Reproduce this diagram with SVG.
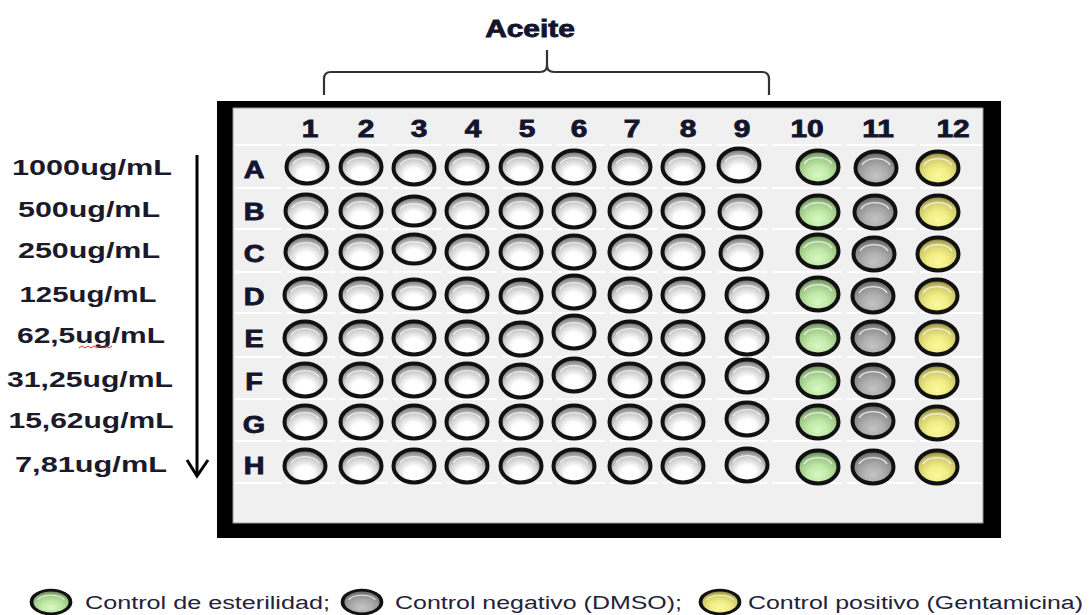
<svg xmlns="http://www.w3.org/2000/svg" xmlns:xlink="http://www.w3.org/1999/xlink" width="1089" height="615" viewBox="0 0 1089 615">
  <style>
    .hdr { font-family: "Liberation Sans", Arial, sans-serif; font-weight: bold; font-size: 23px; fill: #14142c; stroke: #14142c; stroke-width: 0.8; text-anchor: middle; }
    .conc { font-family: "Liberation Sans", Arial, sans-serif; font-weight: bold; font-size: 22px; fill: #1a1a2a; text-anchor: middle; }
    .legend { font-family: "Liberation Sans", Arial, sans-serif; font-size: 18px; fill: #22223a; }
    .sep { stroke: #ffffff; stroke-width: 2; }
    .rim { stroke: #111; stroke-width: 4; }
    .shine { fill: none; stroke: #f4f4f4; stroke-width: 1.4; opacity: 0.85; }
  </style>
  <defs>
    <radialGradient id="gWhite" cx="0.5" cy="0.66" r="0.6" fx="0.5" fy="0.75">
      <stop offset="0" stop-color="#ffffff"/>
      <stop offset="0.35" stop-color="#ffffff"/>
      <stop offset="0.7" stop-color="#cfcfcf"/>
      <stop offset="1" stop-color="#7a7a7a"/>
    </radialGradient>
    <radialGradient id="gGreen" cx="0.5" cy="0.66" r="0.6" fx="0.5" fy="0.75">
      <stop offset="0" stop-color="#d8f8c4"/>
      <stop offset="0.4" stop-color="#c2eaa8"/>
      <stop offset="0.8" stop-color="#9cc486"/>
      <stop offset="1" stop-color="#6c8a5c"/>
    </radialGradient>
    <radialGradient id="gGray" cx="0.5" cy="0.66" r="0.6" fx="0.5" fy="0.75">
      <stop offset="0" stop-color="#c4c4c4"/>
      <stop offset="0.4" stop-color="#b0b0b0"/>
      <stop offset="0.8" stop-color="#8e8e8e"/>
      <stop offset="1" stop-color="#666666"/>
    </radialGradient>
    <radialGradient id="gYellow" cx="0.5" cy="0.66" r="0.6" fx="0.5" fy="0.75">
      <stop offset="0" stop-color="#fbf9a0"/>
      <stop offset="0.4" stop-color="#f2ee86"/>
      <stop offset="0.8" stop-color="#cfca6a"/>
      <stop offset="1" stop-color="#8f8a4a"/>
    </radialGradient>
    <!-- one well of the plate, centred on 0,0 -->
    <g id="wW">
      <ellipse rx="20.5" ry="16.5" fill="url(#gWhite)" class="rim"/>
      <path d="M -14 -3 A 15 10 0 0 1 14 -3" class="shine"/>
    </g>
    <g id="wG">
      <ellipse rx="20.5" ry="16.5" fill="url(#gGreen)" class="rim"/>
      <path d="M -14 -3 A 15 10 0 0 1 14 -3" class="shine"/>
    </g>
    <g id="wK">
      <ellipse rx="20.5" ry="16.5" fill="url(#gGray)" class="rim"/>
      <path d="M -14 -3 A 15 10 0 0 1 14 -3" class="shine"/>
    </g>
    <g id="wY">
      <ellipse rx="20.5" ry="16.5" fill="url(#gYellow)" class="rim"/>
      <path d="M -14 -3 A 15 10 0 0 1 14 -3" class="shine"/>
    </g>
    <!-- squat variant used in column 3 -->
    <g id="wWs">
      <ellipse rx="20.5" ry="14.5" fill="url(#gWhite)" class="rim"/>
      <path d="M -14 -2 A 15 8 0 0 1 14 -2" class="shine"/>
    </g>
    <!-- one row of separator dashes -->
    <g id="sepRow">
      <line class="sep" x1="235" y1="0" x2="282" y2="0"/>
      <line class="sep" x1="287" y1="0" x2="335" y2="0"/>
      <line class="sep" x1="340" y1="0" x2="388" y2="0"/>
      <line class="sep" x1="393" y1="0" x2="442" y2="0"/>
      <line class="sep" x1="447" y1="0" x2="497" y2="0"/>
      <line class="sep" x1="502" y1="0" x2="552" y2="0"/>
      <line class="sep" x1="557" y1="0" x2="605" y2="0"/>
      <line class="sep" x1="610" y1="0" x2="658" y2="0"/>
      <line class="sep" x1="663" y1="0" x2="712" y2="0"/>
      <line class="sep" x1="717" y1="0" x2="767" y2="0"/>
      <line class="sep" x1="772" y1="0" x2="842" y2="0"/>
      <line class="sep" x1="847" y1="0" x2="915" y2="0"/>
      <line class="sep" x1="920" y1="0" x2="982" y2="0"/>
    </g>
  </defs>

  <rect width="1089" height="615" fill="#ffffff"/>

  <!-- title and brace over columns 1-9 -->
  <g id="title">
    <text class="hdr" transform="matrix(1.3 0 0 1 530 37)">Aceite</text>
    <path d="M 324 95 L 324 79 Q 324 72 331 72 L 540 72 Q 547 72 547 65 L 547 50 M 547 65 Q 547 72 554 72 L 762 72 Q 769 72 769 79 L 769 95" fill="none" stroke="#333" stroke-width="2.2"/>
  </g>

  <!-- concentration scale with arrow -->
  <g id="concentrations">
    <text class="conc" x="92" y="175" textLength="160" lengthAdjust="spacingAndGlyphs">1000ug/mL</text>
    <text class="conc" x="89" y="217" textLength="142" lengthAdjust="spacingAndGlyphs">500ug/mL</text>
    <text class="conc" x="89" y="258" textLength="142" lengthAdjust="spacingAndGlyphs">250ug/mL</text>
    <text class="conc" x="88" y="302" textLength="137" lengthAdjust="spacingAndGlyphs">125ug/mL</text>
    <text class="conc" x="91" y="343" textLength="148" lengthAdjust="spacingAndGlyphs">62,5ug/mL</text>
    <path d="M 79 348 l 3 -2 l 3 2 l 3 -2 l 3 2 l 3 -2 l 3 2 l 3 -2 l 3 2 l 3 -2 l 3 2 l 3 -2" fill="none" stroke="#e03030" stroke-width="1"/>
    <text class="conc" x="90" y="387" textLength="166" lengthAdjust="spacingAndGlyphs">31,25ug/mL</text>
    <text class="conc" x="91" y="428" textLength="165" lengthAdjust="spacingAndGlyphs">15,62ug/mL</text>
    <text class="conc" x="91" y="472" textLength="152" lengthAdjust="spacingAndGlyphs">7,81ug/mL</text>
  </g>
  <g id="connectors">
    <line x1="197" y1="155" x2="197" y2="475" stroke="#000" stroke-width="3"/>
    <path d="M 187 460 L 197 476 L 208 460" fill="none" stroke="#000" stroke-width="3" stroke-linejoin="miter"/>
  </g>

  <!-- the 96-well plate -->
  <g id="plate">
    <rect x="217" y="101" width="784" height="437" fill="#000"/>
    <rect x="233" y="108" width="750" height="415" fill="#f0f0f0" stroke="#9a9a9a" stroke-width="1"/>
    <use xlink:href="#sepRow" y="145"/>
    <use xlink:href="#sepRow" y="188"/>
    <use xlink:href="#sepRow" y="229"/>
    <use xlink:href="#sepRow" y="272"/>
    <use xlink:href="#sepRow" y="313"/>
    <use xlink:href="#sepRow" y="357"/>
    <use xlink:href="#sepRow" y="399"/>
    <use xlink:href="#sepRow" y="441"/>
    <use xlink:href="#sepRow" y="483"/>
  </g>

  <g id="columns">
    <text class="hdr" transform="matrix(1.3 0 0 1 310 137)">1</text>
    <text class="hdr" transform="matrix(1.3 0 0 1 366 137)">2</text>
    <text class="hdr" transform="matrix(1.3 0 0 1 419 137)">3</text>
    <text class="hdr" transform="matrix(1.3 0 0 1 473 137)">4</text>
    <text class="hdr" transform="matrix(1.3 0 0 1 527 137)">5</text>
    <text class="hdr" transform="matrix(1.3 0 0 1 579 137)">6</text>
    <text class="hdr" transform="matrix(1.3 0 0 1 632 137)">7</text>
    <text class="hdr" transform="matrix(1.3 0 0 1 688 137)">8</text>
    <text class="hdr" transform="matrix(1.3 0 0 1 742 137)">9</text>
    <text class="hdr" transform="matrix(1.3 0 0 1 807 137)">10</text>
    <text class="hdr" transform="matrix(1.3 0 0 1 878 137)">11</text>
    <text class="hdr" transform="matrix(1.3 0 0 1 953 137)">12</text>
  </g>

  <g id="rows">
    <text class="hdr" transform="matrix(1.25 0 0 1 254 178)">A</text>
    <text class="hdr" transform="matrix(1.25 0 0 1 254 220)">B</text>
    <text class="hdr" transform="matrix(1.25 0 0 1 254 262)">C</text>
    <text class="hdr" transform="matrix(1.25 0 0 1 254 305)">D</text>
    <text class="hdr" transform="matrix(1.25 0 0 1 254 347)">E</text>
    <text class="hdr" transform="matrix(1.25 0 0 1 254 390)">F</text>
    <text class="hdr" transform="matrix(1.25 0 0 1 254 433)">G</text>
    <text class="hdr" transform="matrix(1.25 0 0 1 254 474)">H</text>
  </g>

  <!-- wells: columns 1-9 sample, 10 sterility, 11 negative, 12 positive -->
  <g id="rowA">
    <use xlink:href="#wW" x="307" y="167"/><use xlink:href="#wW" x="361" y="167"/><use xlink:href="#wW" x="414" y="168"/>
    <use xlink:href="#wW" x="467" y="167"/><use xlink:href="#wW" x="521" y="167"/><use xlink:href="#wW" x="574" y="167"/>
    <use xlink:href="#wW" x="630" y="167"/><use xlink:href="#wW" x="683" y="167"/><use xlink:href="#wW" x="739" y="165"/>
    <use xlink:href="#wG" x="818" y="167"/><use xlink:href="#wK" x="876" y="168"/><use xlink:href="#wY" x="938" y="168"/>
  </g>
  <g id="rowB">
    <use xlink:href="#wW" x="306" y="211"/><use xlink:href="#wW" x="361" y="211"/><use xlink:href="#wWs" x="414" y="211"/>
    <use xlink:href="#wW" x="467" y="211"/><use xlink:href="#wW" x="521" y="211"/><use xlink:href="#wW" x="574" y="211"/>
    <use xlink:href="#wW" x="630" y="211"/><use xlink:href="#wW" x="683" y="211"/><use xlink:href="#wW" x="740" y="212"/>
    <use xlink:href="#wG" x="818" y="212"/><use xlink:href="#wK" x="875" y="212"/><use xlink:href="#wY" x="938" y="212"/>
  </g>
  <g id="rowC">
    <use xlink:href="#wW" x="306" y="252"/><use xlink:href="#wW" x="361" y="252"/><use xlink:href="#wWs" x="414" y="249"/>
    <use xlink:href="#wW" x="467" y="252"/><use xlink:href="#wW" x="521" y="252"/><use xlink:href="#wW" x="574" y="252"/>
    <use xlink:href="#wW" x="630" y="252"/><use xlink:href="#wW" x="683" y="252"/><use xlink:href="#wW" x="741" y="253"/>
    <use xlink:href="#wG" x="818" y="251"/><use xlink:href="#wK" x="874" y="254"/><use xlink:href="#wY" x="938" y="254"/>
  </g>
  <g id="rowD">
    <use xlink:href="#wW" x="305" y="295"/><use xlink:href="#wW" x="361" y="295"/><use xlink:href="#wWs" x="414" y="294"/>
    <use xlink:href="#wW" x="467" y="295"/><use xlink:href="#wW" x="521" y="296"/><use xlink:href="#wW" x="574" y="292"/>
    <use xlink:href="#wW" x="630" y="295"/><use xlink:href="#wW" x="683" y="295"/><use xlink:href="#wW" x="747" y="295"/>
    <use xlink:href="#wG" x="818" y="294"/><use xlink:href="#wK" x="873" y="296"/><use xlink:href="#wY" x="937" y="296"/>
  </g>
  <g id="rowE">
    <use xlink:href="#wW" x="305" y="338"/><use xlink:href="#wW" x="361" y="338"/><use xlink:href="#wW" x="414" y="338"/>
    <use xlink:href="#wW" x="467" y="338"/><use xlink:href="#wW" x="521" y="339"/><use xlink:href="#wW" x="574" y="332"/>
    <use xlink:href="#wW" x="630" y="338"/><use xlink:href="#wW" x="683" y="338"/><use xlink:href="#wW" x="747" y="338"/>
    <use xlink:href="#wG" x="818" y="338"/><use xlink:href="#wK" x="873" y="338"/><use xlink:href="#wY" x="937" y="338"/>
  </g>
  <g id="rowF">
    <use xlink:href="#wW" x="305" y="380"/><use xlink:href="#wW" x="361" y="380"/><use xlink:href="#wW" x="414" y="380"/>
    <use xlink:href="#wW" x="467" y="380"/><use xlink:href="#wW" x="521" y="381"/><use xlink:href="#wW" x="574" y="375"/>
    <use xlink:href="#wW" x="630" y="380"/><use xlink:href="#wW" x="683" y="380"/><use xlink:href="#wW" x="747" y="376"/>
    <use xlink:href="#wG" x="818" y="381"/><use xlink:href="#wK" x="873" y="381"/><use xlink:href="#wY" x="937" y="381"/>
  </g>
  <g id="rowG">
    <use xlink:href="#wW" x="305" y="422"/><use xlink:href="#wW" x="361" y="422"/><use xlink:href="#wW" x="414" y="422"/>
    <use xlink:href="#wW" x="467" y="422"/><use xlink:href="#wW" x="521" y="422"/><use xlink:href="#wW" x="574" y="422"/>
    <use xlink:href="#wW" x="630" y="422"/><use xlink:href="#wW" x="683" y="422"/><use xlink:href="#wW" x="747" y="419"/>
    <use xlink:href="#wG" x="818" y="422"/><use xlink:href="#wK" x="873" y="421"/><use xlink:href="#wY" x="937" y="423"/>
  </g>
  <g id="rowH">
    <use xlink:href="#wW" x="305" y="466"/><use xlink:href="#wW" x="361" y="466"/><use xlink:href="#wW" x="414" y="466"/>
    <use xlink:href="#wW" x="467" y="466"/><use xlink:href="#wW" x="521" y="466"/><use xlink:href="#wW" x="574" y="466"/>
    <use xlink:href="#wW" x="630" y="466"/><use xlink:href="#wW" x="683" y="466"/><use xlink:href="#wW" x="747" y="465"/>
    <use xlink:href="#wG" x="818" y="467"/><use xlink:href="#wK" x="873" y="467"/><use xlink:href="#wY" x="937" y="467"/>
  </g>

  <!-- key -->
  <g id="legend">
    <use xlink:href="#wG" transform="translate(51 602) scale(0.95 0.72)"/>
    <text class="legend" x="85" y="609" textLength="245" lengthAdjust="spacingAndGlyphs">Control de esterilidad;</text>
    <use xlink:href="#wK" transform="translate(362 602) scale(0.95 0.72)"/>
    <text class="legend" x="395" y="609" textLength="287" lengthAdjust="spacingAndGlyphs">Control negativo (DMSO);</text>
    <use xlink:href="#wY" transform="translate(720 602) scale(0.95 0.72)"/>
    <text class="legend" x="748" y="609" textLength="335" lengthAdjust="spacingAndGlyphs">Control positivo (Gentamicina)</text>
  </g>
</svg>
